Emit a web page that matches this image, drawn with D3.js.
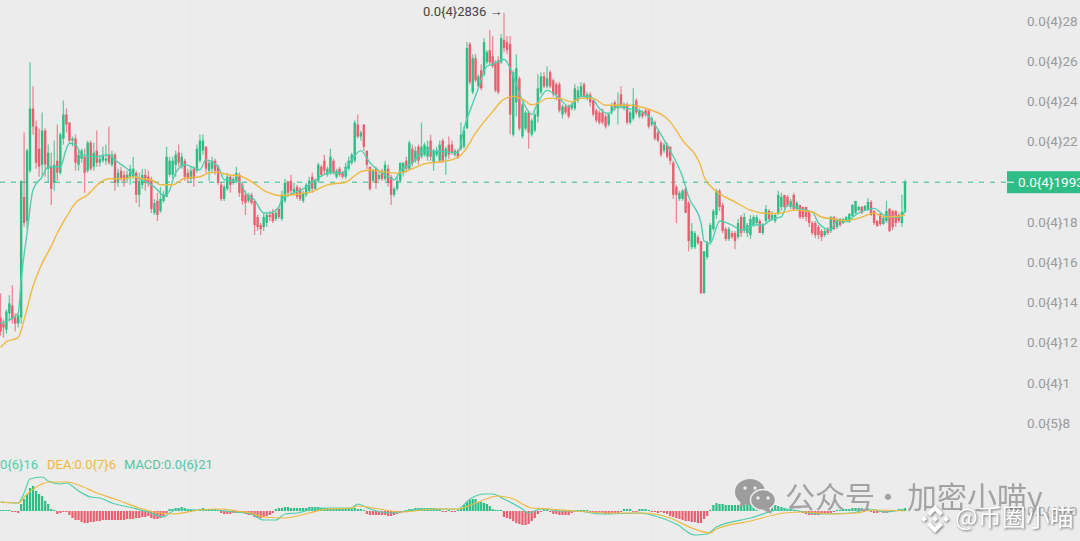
<!DOCTYPE html>
<html>
<head>
<meta charset="utf-8">
<script src="https://cdn.jsdelivr.net/npm/d3@7"></script>
<style>
  html, body { margin: 0; padding: 0; background: #ececec; overflow: hidden; }
  svg { display: block; font-family: Roboto, sans-serif; }
  .soft { filter: blur(0.45px); }
  .shadow { filter: drop-shadow(1px 1px 0.8px #777); }
</style>
</head>
<body>
<svg id="chart" width="1080" height="541"></svg>
<script>
// candles (price in units of 0.0{4}1)
const opens = [
  13.2,12.9,12.6,13.4,13.8,13.2,12.9,13.2,19.2,18.0,
  20.5,23.6,22.7,21.6,20.8,22.5,20.6,20.7,19.9,21.0,
  20.4,22.1,23.3,22.9,22.0,22.1,20.8,21.1,21.2,20.5,
  21.9,20.7,21.5,20.9,21.0,21.0,21.3,20.8,21.3,19.9,
  20.5,20.3,20.1,20.2,20.2,20.4,19.3,19.8,20.3,20.2,
  20.0,18.4,19.0,18.5,19.0,19.2,20.3,20.3,20.8,21.4,
  20.7,21.0,20.4,20.1,20.6,20.5,21.0,21.5,21.7,20.5,
  20.6,21.0,20.7,19.8,19.1,19.6,20.2,19.9,20.0,20.3,
  19.8,19.3,19.0,19.3,19.0,18.2,17.8,17.7,17.9,18.3,
  18.4,18.1,18.6,18.1,19.0,19.9,20.0,19.4,19.7,19.6,
  19.0,19.3,19.5,20.2,19.6,20.0,20.7,21.0,20.3,20.4,
  21.0,20.2,20.6,20.4,20.2,20.6,20.9,21.0,22.8,22.2,
  22.8,21.5,20.7,20.0,20.6,20.1,20.5,20.1,20.6,20.2,
  19.3,19.6,20.0,20.4,21.0,20.6,21.6,21.0,21.7,21.2,
  21.3,21.2,22.0,20.9,21.3,21.0,22.0,21.2,21.8,21.8,
  21.3,21.5,21.6,21.7,22.6,26.8,24.4,26.1,24.7,25.5,
  25.3,25.9,26.5,26.2,25.9,26.0,25.9,27.0,26.9,26.8,
  22.3,23.9,25.1,22.2,22.6,23.4,22.3,22.5,23.2,24.4,
  25.2,24.7,25.4,25.0,24.8,24.8,23.3,23.7,23.7,23.6,
  23.6,24.0,24.2,24.8,24.1,24.3,24.0,23.5,23.4,23.4,
  23.2,22.8,23.4,23.9,23.6,24.3,23.6,23.8,22.9,23.1,
  24.0,23.2,23.4,23.5,23.5,22.8,22.9,22.4,21.9,21.5,
  21.8,21.7,20.9,19.7,19.1,19.1,19.6,18.9,16.7,16.7,
  17.2,17.0,14.4,16.2,17.0,17.6,18.3,19.5,18.8,17.6,
  17.1,17.4,17.4,17.2,18.2,17.5,17.4,17.3,17.8,17.9,
  18.0,17.4,18.0,18.5,18.1,18.0,18.4,18.7,19.3,19.2,
  18.7,19.3,18.6,18.8,18.7,18.7,18.5,17.9,17.9,17.7,
  17.5,17.3,17.6,17.5,18.2,17.7,18.1,17.9,18.05,17.95,
  18.25,18.4,18.55,18.7,18.55,18.55,18.95,18.5,18.0,18.35,
  17.85,18.0,18.6,18.5,18.5,18.3,17.9,18.45
];
const closes = [
  12.5,12.7,13.5,13.9,13.1,12.9,13.3,20.0,17.9,21.5,
  23.6,22.7,20.9,20.7,22.5,20.8,21.4,19.6,20.8,20.4,
  22.3,23.3,22.8,22.0,22.1,20.9,21.3,21.5,20.4,21.9,
  20.6,21.4,20.9,21.1,21.3,21.1,20.9,21.3,19.9,20.4,
  20.1,20.0,20.3,20.6,20.6,19.3,20.0,20.3,19.9,19.9,
  18.6,18.9,18.3,19.1,19.3,21.2,21.0,21.0,21.3,20.9,
  21.2,20.2,20.1,20.5,20.1,21.6,22.0,22.0,20.6,20.9,
  21.0,20.5,19.9,19.1,19.7,20.2,19.8,20.1,20.4,19.4,
  19.0,18.9,19.3,18.9,17.8,17.7,17.6,18.2,18.3,18.2,
  18.0,18.4,18.2,19.3,19.9,19.4,19.5,19.6,19.2,19.1,
  19.4,19.8,20.0,19.6,20.0,20.8,20.3,20.5,20.6,21.2,
  20.4,20.5,20.3,20.2,20.7,21.0,21.3,22.9,22.2,22.4,
  21.7,20.8,19.6,20.5,19.9,20.3,20.1,20.8,19.9,19.3,
  19.6,20.0,20.9,20.9,20.6,21.9,20.9,21.5,21.0,21.7,
  21.8,21.7,21.2,21.5,21.5,21.8,21.0,21.6,21.3,21.4,
  21.5,21.2,22.3,22.5,26.6,24.9,26.1,25.0,25.2,24.6,
  26.9,26.4,25.9,25.7,24.5,24.4,27.1,26.6,26.5,23.3,
  25.4,25.6,22.6,23.8,23.4,22.4,23.0,23.3,24.6,25.2,
  24.7,25.1,24.7,24.3,24.3,23.5,23.7,23.4,23.2,23.8,
  24.6,24.5,24.7,24.2,24.3,23.9,23.3,23.0,22.9,22.9,
  22.7,23.3,23.7,23.6,23.8,23.7,23.8,22.9,23.4,23.8,
  23.4,23.5,23.2,23.3,22.7,23.1,22.1,22.0,21.3,21.8,
  21.2,21.0,19.3,19.3,19.4,19.5,18.4,17.0,17.5,17.4,
  16.9,14.4,16.5,16.9,17.8,18.5,19.5,18.7,17.5,17.1,
  17.6,17.2,17.0,17.9,17.4,18.2,17.8,18.1,18.2,18.2,
  17.4,17.8,18.6,18.1,18.3,18.3,19.3,19.2,18.7,18.8,
  19.0,18.6,18.9,18.2,18.2,18.2,17.9,17.4,17.3,17.3,
  17.2,17.5,17.4,18.2,17.6,18.1,17.8,18.1,18.2,18.35,
  18.8,19.0,18.7,18.4,18.75,18.95,18.3,17.9,17.75,17.85,
  18.15,18.5,17.5,17.7,17.9,18.0,18.45,19.93
];
const highs = [
  14.4,13.1,13.6,14.3,14.8,13.4,13.4,20.0,22.4,21.6,
  25.9,24.7,23.0,22.6,23.4,22.6,21.8,21.4,22.0,22.8,
  22.4,24.0,23.6,22.9,22.2,22.3,21.5,21.6,21.6,22.0,
  22.0,21.9,22.5,21.3,21.7,21.8,22.7,21.5,21.4,20.6,
  20.7,20.5,20.5,20.8,21.2,20.5,20.4,20.6,20.6,20.5,
  20.2,19.1,19.4,19.7,19.5,21.7,21.2,21.2,21.5,21.8,
  21.4,21.1,20.6,20.7,20.7,21.8,22.3,22.3,21.7,21.0,
  21.2,21.1,20.8,19.9,19.8,20.4,20.3,20.2,20.7,20.4,
  19.9,19.5,19.4,19.4,19.0,18.3,17.9,18.4,18.4,18.5,
  18.6,18.6,18.7,19.5,20.1,20.0,20.3,19.9,19.8,19.7,
  19.5,19.9,20.2,20.4,20.1,20.9,20.8,21.3,20.7,21.6,
  21.1,20.6,20.7,20.5,20.9,21.2,21.4,23.0,23.3,22.5,
  22.8,21.5,20.7,20.6,20.7,20.5,20.6,21.0,20.8,20.3,
  19.7,20.2,20.9,20.9,21.2,22.0,21.8,21.7,21.8,22.9,
  21.9,22.0,22.3,21.6,21.7,22.0,22.1,21.7,22.2,22.0,
  21.6,21.6,22.9,22.7,26.9,26.9,26.3,26.3,25.3,25.8,
  27.1,26.5,27.5,27.2,26.0,26.2,27.3,28.36,27.2,27.2,
  25.5,26.3,25.2,23.9,23.5,23.5,23.1,23.4,25.3,25.4,
  25.4,25.7,25.5,25.1,24.9,24.9,23.8,23.8,23.8,23.9,
  24.8,24.7,24.9,24.9,24.4,24.4,24.0,23.6,23.5,23.6,
  23.3,23.4,23.9,24.0,24.4,24.7,23.9,23.9,23.5,24.6,
  24.1,23.6,23.5,23.6,23.6,23.2,23.0,22.5,22.0,21.9,
  21.9,21.7,21.0,19.8,19.5,19.6,19.7,19.0,17.9,17.5,
  17.3,17.0,16.5,17.0,17.9,18.6,19.6,19.6,18.9,17.7,
  17.7,17.5,17.5,18.1,18.3,18.4,17.9,18.3,18.3,18.3,
  18.1,17.9,18.8,18.6,18.5,18.4,19.5,19.4,19.3,19.3,
  19.1,19.4,19.0,18.8,18.7,18.7,18.5,18.0,18.0,17.8,
  17.6,17.6,17.7,18.25,18.25,18.15,18.15,18.15,18.25,18.4,
  18.85,19.0,18.75,18.75,18.8,19.15,19.05,18.55,18.05,18.4,
  18.2,19.0,18.65,18.55,18.55,18.4,19.3,20.05
];
const lows = [
  12.3,12.2,12.4,13.0,12.9,12.5,12.7,12.9,17.7,17.6,
  20.4,22.3,20.6,20.2,20.2,20.2,19.9,18.8,19.5,20.0,
  20.3,21.8,22.4,21.9,21.7,20.5,20.5,20.9,19.4,20.4,
  20.5,20.5,20.7,20.7,20.9,20.8,20.8,20.7,19.5,19.7,
  20.0,19.7,19.9,19.8,20.1,18.9,18.7,19.6,19.5,19.7,
  18.4,18.3,18.0,18.4,18.9,19.2,20.2,20.1,20.2,20.7,
  20.6,20.0,19.9,19.9,19.7,20.4,20.9,21.3,20.4,20.0,
  20.4,20.3,19.8,19.0,19.0,19.5,19.4,19.8,19.9,19.2,
  18.8,18.3,18.9,18.8,17.3,17.5,17.3,17.5,17.7,18.0,
  17.9,18.0,18.1,18.0,18.9,19.2,19.3,19.3,19.1,19.0,
  18.9,19.2,19.4,19.4,19.5,19.9,20.2,20.3,20.2,20.3,
  20.3,20.1,20.2,20.1,20.1,20.5,20.8,20.9,22.1,22.0,
  21.5,20.6,19.5,19.9,19.6,20.0,20.0,20.0,19.7,18.8,
  19.2,19.5,19.9,20.2,20.4,20.5,20.7,20.9,20.8,21.1,
  21.2,21.0,21.0,20.5,21.2,20.9,20.9,20.3,21.1,21.3,
  21.2,21.1,21.5,21.6,22.6,24.8,24.3,24.9,24.6,24.5,
  25.2,25.8,25.8,25.6,24.4,24.3,25.8,26.4,26.3,22.3,
  22.2,23.2,22.5,22.1,22.5,21.6,22.2,22.4,22.9,24.3,
  24.6,24.6,24.6,24.2,24.0,23.4,23.1,23.3,23.1,23.5,
  23.5,23.9,24.1,24.1,24.0,23.7,23.2,22.9,22.8,22.8,
  22.6,22.7,23.3,23.5,22.8,23.6,23.5,22.8,22.8,23.0,
  23.3,23.1,23.1,23.2,22.6,22.7,22.0,21.9,21.2,21.4,
  21.1,20.8,19.1,17.9,19.0,19.0,18.4,16.5,16.6,16.6,
  16.8,14.39,14.39,16.1,16.8,17.5,18.1,18.5,17.4,17.0,
  17.0,17.1,16.6,17.1,17.2,17.4,17.2,17.1,17.7,17.8,
  17.4,17.3,17.9,18.0,18.0,17.9,18.3,18.5,18.6,18.7,
  18.6,18.5,18.5,18.1,18.1,18.0,17.7,17.3,17.15,17.1,
  17.0,17.2,17.3,17.4,17.55,17.6,17.7,17.85,18.0,17.9,
  18.2,18.35,18.5,18.35,18.5,18.5,18.25,17.8,17.7,17.75,
  17.8,17.9,17.45,17.55,17.7,17.9,17.7,18.4
];

const maFastIdx = [0,3,6,7,9,11,14,16,20,22,23,25,27,32,36,38,42,45,48,51,54,55,58,61,66,68,72,74,79,81,84,87,89,92,93,97,100,104,109,113,116,119,122,125,128,130,132,136,140,146,151,153,156,158,161,163,167,169,170,173,176,178,181,185,188,192,195,198,201,204,207,211,214,218,221,225,227,231,232,234,237,241,244,248,251,254,257,259,263,267,269,273,275,278,281,287,290,293,296,297];
const maFast = [12.9,13.1,13.4,15.07,17.4,19.55,20.2,20.7,20.7,21.6,21.87,21.8,21.3,21.2,21.3,21.04,20.6,20.2,19.96,19.7,19.3,19.3,20.4,20.8,20.55,21.04,20.7,20.05,19.96,19.4,19.05,18.4,18.4,18.7,19.1,19.4,19.6,20.05,20.4,20.4,21.04,21.5,20.9,20.5,20.2,20.05,20.5,20.9,21.5,21.45,21.4,22.6,23.85,24.6,25.7,25.8,26.05,25.6,25.2,24.0,23.3,23.9,24.5,24.1,23.7,24.2,24.2,23.6,23.35,23.7,23.6,23.5,23.2,22.3,21.5,20.2,19.2,17.9,17.0,16.9,18.0,17.8,17.55,17.8,17.8,18.1,18.2,18.8,18.6,18.45,17.9,17.55,18.05,17.97,18.3,18.63,18.3,18.2,18.2,18.6];
const maSlowIdx = [0,2,6,8,11,14,17,19,22,25,29,33,36,41,44,47,50,53,57,61,66,69,72,75,79,82,88,92,98,103,108,114,119,122,126,131,135,140,146,151,153,157,163,167,170,173,176,178,181,185,189,192,196,200,207,214,221,225,231,232,235,242,247,253,257,261,267,270,274,278,282,287,290,293,297];
const maSlow = [11.7,12.0,12.2,13.1,14.75,15.9,16.75,17.4,18.2,18.9,19.3,19.9,20.1,20.1,20.2,20.1,20.05,19.8,19.8,20.13,20.2,20.4,20.43,20.3,20.25,20.05,19.45,19.27,19.33,19.46,19.8,19.93,20.46,20.54,20.46,20.38,20.54,20.84,20.96,21.17,21.45,22.37,23.44,24.06,24.2,24.06,23.78,23.85,24.1,24.1,23.93,24.1,24.1,23.76,23.76,23.56,22.93,22.02,20.7,20.2,19.6,18.95,18.54,18.37,18.4,18.54,18.45,18.2,18.1,18.02,18.14,18.39,18.22,18.22,18.3];

// macd pane (arbitrary units, about 1e-7)
const histogram = [
  1,1,1,1,-1,-1,-2,7,12,17,
  23,25,20,17,15,10,7,2,1,-3,
  -2,-1,-1,-4,-7,-9,-9,-11,-12,-12,
  -11,-11,-10,-10,-9,-9,-9,-9,-9,-9,
  -9,-9,-8,-8,-8,-7,-7,-6,-6,-5,
  -7,-8,-8,-7,-5,-2,2,2,3,3,
  4,3,2,1,1,1,2,3,2,2,
  2,2,1,-2,-3,-3,-3,-2,-2,-2,
  -2,-3,-4,-4,-6,-7,-7,-6,-5,-4,
  -2,2,3,3,4,4,3,3,3,3,
  3,3,4,4,4,4,3,3,3,2,
  2,2,2,3,3,3,3,3,
  2,2,1,-3,-4,-4,-4,-4,-4,-4,
  -5,-5,-4,-3,-2,-1,1,2,2,3,
  3,3,3,3,3,3,2,2,-1,-1,
  1,-1,-1,1,3,6,9,11,12,12,
  9,9,8,7,5,2,1,1,1,-6,
  -7,-8,-10,-12,-13,-14,-14,-13,-10,-7,
  -3,-1,1,2,-1,-3,-3,-4,-4,-4,
  -4,-2,-1,1,1,1,1,-1,-1,-1,
  -2,-2,-3,-3,-2,-2,-2,-1,2,2,
  2,-1,-1,2,2,2,1,-1,-1,-2,
  -1,-2,-3,-5,-6,-7,-8,-9,-10,-10,
  -11,-11,-12,-12,-8,-5,1,6,
  8,7,7,6,6,6,6,6,6,6,
  7,7,7,7,7,7,7,6,6,6,
  5,4,3,2,2,1,1,-1,-2,-3,
  -4,-4,-4,-4,-3,-3,-2,-2,-1,1,
  1,2,2,2,3,3,3,3,2,2,
  -1,-2,-2,-1,-2,-2,-1,1,1,2,
  2,3
];
const difIdx = [0,6,8,10,14,16,20,22,26,30,33,37,44,49,54,56,59,66,71,77,83,87,91,94,98,105,113,116,118,122,129,132,140,151,155,160,163,167,173,175,179,186,190,199,211,216,223,229,233,236,247,258,269,280,285,291,297];
const dif = [9,8,18,32,34,30,27,28,20,14,13,8,3,-1,-6,-2,2,1,1,-1,-3,-9,-9,-3,-2,3,3,3,7,2,-2,-1,2,2,12,17,17,12,2,-2,2,0,0,-3,-2,-5,-13,-24,-23,-16,-7,2,-3,-2,2,-1,2];
const deaIdx = [0,6,9,14,16,22,26,32,38,46,51,57,66,73,78,83,87,94,102,108,116,118,125,132,144,151,157,165,170,176,182,190,202,212,221,228,234,236,247,258,264,274,281,287,297];
const dea = [9,8,17,27,29,29,26,18,12,3,-1,-3,1,2,0,-2,-6,-7,-2,2,3,5,2,-1,2,2,8,15,12,3,2,0,-2,-2,-7,-17,-22,-18,-10,-2,-1,-3,-2,1,0];

const priceTicks = [28, 26, 24, 22, 18, 16, 14, 12, 10, 8];
const priceTickLabels = ["0.0{4}28", "0.0{4}26", "0.0{4}24", "0.0{4}22", "0.0{4}18", "0.0{4}16", "0.0{4}14", "0.0{4}12", "0.0{4}1", "0.0{5}8"];
const lastPrice = 19.93;
const lastPriceLabel = "0.0{4}1993";
const peakPrice = 28.36;
const peakLabel = "0.0{4}2836 →";
const gridIdx = [63, 154, 215];

const green = "#2ebd85";
const red = "#e8606f";
const teal = "#4fcfae";
const orange = "#f0b840";

const svg = d3.select("#chart");

// piecewise, the candles I counted do not sit quite evenly against the picture
const x = d3
  .scaleLinear()
  .domain([0, 10, 154, 167, 231, 297])
  .range([0.5, 30, 467, 504, 701, 905]);
const y = d3.scaleLinear().domain([8, 28]).range([422, 20]);
const yMacd = d3.scaleLinear().domain([-30, 30]).range([541, 481]);

svg.append("rect").attr("width", 1080).attr("height", 541).attr("fill", "#ececec");

// faint vertical grid
svg
  .append("g")
  .selectAll("line")
  .data(gridIdx)
  .join("line")
  .attr("x1", (d) => x(d))
  .attr("x2", (d) => x(d))
  .attr("y1", 0)
  .attr("y2", 541)
  .attr("stroke", "#e8e8e8");

const plot = svg.append("g").attr("class", "soft");

// last price line
plot
  .append("line")
  .attr("x1", 0)
  .attr("x2", 1007)
  .attr("y1", y(lastPrice))
  .attr("y2", y(lastPrice))
  .attr("stroke", green)
  .attr("stroke-dasharray", "5,6");

const candles = plot
  .append("g")
  .selectAll("g")
  .data(d3.range(opens.length))
  .join("g")
  .attr("fill", (i) => (closes[i] >= opens[i] ? green : red))
  .attr("stroke", (i) => (closes[i] >= opens[i] ? green : red));

candles
  .append("line")
  .attr("x1", (i) => x(i))
  .attr("x2", (i) => x(i))
  .attr("y1", (i) => y(highs[i]))
  .attr("y2", (i) => y(lows[i]))
  .attr("stroke-width", 1.3)
  .attr("stroke-opacity", 0.7);

candles
  .append("rect")
  .attr("stroke", "none")
  .attr("x", (i) => x(i) - 1.2)
  .attr("width", 2.4)
  .attr("y", (i) => y(Math.max(opens[i], closes[i])))
  .attr("height", (i) => Math.max(1, Math.abs(y(opens[i]) - y(closes[i]))));

const priceLine = d3
  .line()
  .x((d) => x(d[0]))
  .y((d) => y(d[1]))
  .curve(d3.curveMonotoneX);

plot
  .append("path")
  .datum(d3.zip(maFastIdx, maFast))
  .attr("d", priceLine)
  .attr("fill", "none")
  .attr("stroke", teal)
  .attr("stroke-width", 1.4);

plot
  .append("path")
  .datum(d3.zip(maSlowIdx, maSlow))
  .attr("d", priceLine)
  .attr("fill", "none")
  .attr("stroke", orange)
  .attr("stroke-width", 1.4);

// macd histogram
plot
  .append("g")
  .selectAll("rect")
  .data(histogram)
  .join("rect")
  .attr("x", (d, i) => x(i) - 1.1)
  .attr("width", 2.2)
  .attr("y", (d) => yMacd(Math.max(d, 0)))
  .attr("height", (d) => Math.abs(yMacd(d) - yMacd(0)))
  .attr("fill", (d) => (d >= 0 ? green : red));

const macdLine = d3
  .line()
  .x((d) => x(d[0]))
  .y((d) => yMacd(d[1]))
  .curve(d3.curveMonotoneX);

plot
  .append("path")
  .datum(d3.zip(difIdx, dif))
  .attr("d", macdLine)
  .attr("fill", "none")
  .attr("stroke", teal)
  .attr("stroke-width", 1.2);

plot
  .append("path")
  .datum(d3.zip(deaIdx, dea))
  .attr("d", macdLine)
  .attr("fill", "none")
  .attr("stroke", orange)
  .attr("stroke-width", 1.2);

// right axis
const axis = svg
  .append("g")
  .attr("transform", "translate(1027,1)")
  .call(
    d3
      .axisRight(y)
      .tickValues(priceTicks)
      .tickSize(0)
      .tickPadding(0)
      .tickFormat((d, i) => priceTickLabels[i])
  );
axis.select(".domain").remove();
axis.selectAll("text").attr("fill", "#9a9a9a").attr("font-size", 13.5).attr("font-family", "Roboto");

const macdAxis = svg
  .append("g")
  .attr("transform", "translate(1027,0)")
  .call(d3.axisRight(yMacd).tickValues([0]).tickSize(0).tickPadding(0).tickFormat(() => "0.0{6}00"));
macdAxis.select(".domain").remove();
macdAxis.selectAll("text").attr("fill", "#a8a8a8").attr("font-size", 13.5).attr("font-family", "Roboto");

// last price tag
svg.append("rect").attr("x", 1007).attr("y", y(lastPrice) - 11).attr("width", 73).attr("height", 22).attr("fill", green);
svg.append("line").attr("x1", 1007).attr("x2", 1014).attr("y1", y(lastPrice)).attr("y2", y(lastPrice)).attr("stroke", "#fff");
svg
  .append("text")
  .attr("x", 1018)
  .attr("y", y(lastPrice) + 4.5)
  .attr("fill", "#fff")
  .attr("font-size", 13.5)
  .text(lastPriceLabel);

// peak label
svg
  .append("text")
  .attr("x", 423)
  .attr("y", y(peakPrice) + 3)
  .attr("fill", "#444")
  .attr("font-size", 13)
  .text(peakLabel);

// macd legend, clipped on the left as in the picture
const legend = svg.append("g").attr("font-size", 13);
legend.append("text").attr("x", 0).attr("y", 469).attr("fill", teal).text("0{6}16");
legend.append("text").attr("x", 47).attr("y", 469).attr("fill", orange).text("DEA:0.0{7}6");
legend.append("text").attr("x", 124).attr("y", 469).attr("fill", "#55c4a4").text("MACD:0.0{6}21");

// watermark
const wm = svg.append("g").attr("class", "soft");
wm.append("ellipse").attr("cx", 750).attr("cy", 492).attr("rx", 15).attr("ry", 13).attr("fill", "#9d9d9d");
wm.append("path").attr("d", "M741 501 L739 508 L748 503 Z").attr("fill", "#9d9d9d");
wm.append("ellipse").attr("cx", 763).attr("cy", 500).attr("rx", 12.5).attr("ry", 10.5).attr("fill", "#9d9d9d").attr("stroke", "#ececec").attr("stroke-width", 1.5);
wm.append("path").attr("d", "M769 508 L772 514 L763 510 Z").attr("fill", "#9d9d9d");
[[745, 488], [755, 488], [758, 498], [768, 498]].forEach(([cx, cy]) => {
  wm.append("circle").attr("cx", cx).attr("cy", cy).attr("r", 1.7).attr("fill", "#ececec");
});
const wmText = wm
  .append("text")
  .attr("y", 508)
  .attr("fill", "#a3a3a3")
  .attr("font-size", 30)
  .attr("font-family", "'Noto Sans CJK SC'");
wmText.append("tspan").attr("x", 785).text("公众号");
wmText.append("tspan").attr("x", 873).text("·");
wmText.append("tspan").attr("x", 907).text("加密小喵y");

// binance logo and handle
const shadowed = svg.append("g").attr("class", "shadow");
const logo = shadowed.append("g").attr("transform", "translate(935,519)").attr("fill", "#fff");
logo.append("path").attr("d", "M0 -14 L8 -6 L5 -3 L0 -8 L-5 -3 L-8 -6 Z");
logo.append("path").attr("d", "M0 14 L8 6 L5 3 L0 8 L-5 3 L-8 6 Z");
[[-11, 0], [11, 0], [0, 0]].forEach(([dx, dy]) => {
  logo.append("path").attr("d", `M${dx} ${dy - 3} L${dx + 3} ${dy} L${dx} ${dy + 3} L${dx - 3} ${dy} Z`);
});
shadowed
  .append("text")
  .attr("x", 955)
  .attr("y", 526)
  .attr("fill", "#fff")
  .attr("font-size", 24)
  .attr("font-family", "'Noto Sans CJK SC'")
  .text("@币圈小喵");
</script>
</body>
</html>
